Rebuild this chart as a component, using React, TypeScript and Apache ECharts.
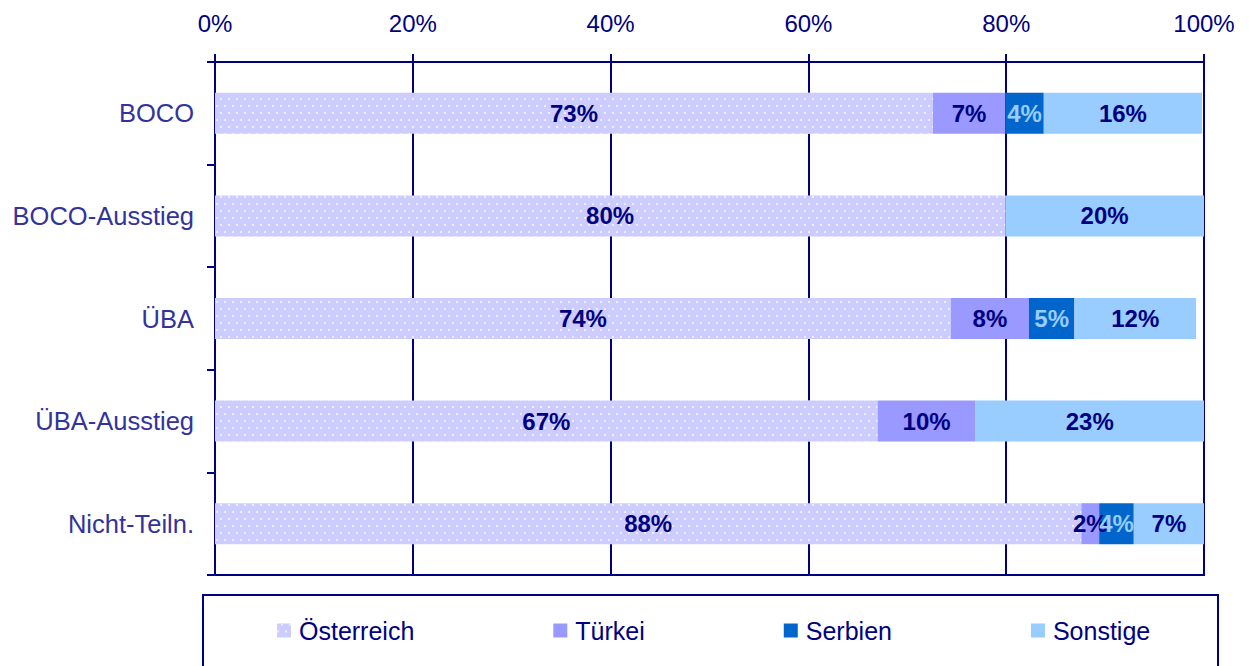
import React, { useEffect, useRef } from "react";
import * as echarts from "echarts";

const categories = ["BOCO", "BOCO-Ausstieg", "ÜBA", "ÜBA-Ausstieg", "Nicht-Teiln."];
const seriesNames = ["Österreich", "Türkei", "Serbien", "Sonstige"];
const oesterreich = [72.6, 79.9, 74.4, 67.0, 87.6];
const tuerkei = [7.3, 0, 7.9, 9.9, 1.8];
const serbien = [3.9, 0, 4.6, 0, 3.5];
const sonstige = [16.0, 20.1, 12.3, 23.1, 7.1];
const xTicks = [0, 20, 40, 60, 80, 100];

const NAVY = "#000080";
const FONT = "'Liberation Sans', Arial, sans-serif";

export default function App() {
  const ref = useRef<HTMLDivElement>(null);
  useEffect(() => {
    if (!ref.current) return;
    const chart = echarts.init(ref.current, undefined, { renderer: "svg" });
    const colors = ["#ccccff", "#9999ff", "#0066cc", "#99ccff"];
    const labelColors = [NAVY, NAVY, "#99ccff", NAVY];
    const values = [oesterreich, tuerkei, serbien, sonstige];
    const series = seriesNames.map((name, i) => {
      const itemStyle: any = { color: colors[i] };
      if (i === 0) {
        itemStyle.decal = {
          symbol: "circle",
          symbolSize: 0.85,
          color: "rgba(255,255,255,0.95)",
          dashArrayX: [
            [2, 6],
            [0, 4, 2, 2],
          ],
          dashArrayY: [2, 5],
        };
      }
      return {
        name,
        type: "bar",
        stack: "total",
        barWidth: 41,
        data: values[i],
        itemStyle,
        label: {
          show: true,
          position: "inside",
          fontFamily: FONT,
          fontSize: 24,
          fontWeight: "bold",
          color: labelColors[i],
          formatter: (p: any) => (p.value > 0 ? Math.round(p.value) + "%" : ""),
        },
      };
    });
    chart.setOption({
      animation: false,
      grid: {
        left: 215,
        right: 45,
        top: 62,
        bottom: 91,
        show: true,
        borderColor: NAVY,
        borderWidth: 2,
      },
      xAxis: {
        type: "value",
        position: "top",
        min: xTicks[0],
        max: xTicks[xTicks.length - 1],
        interval: 20,
        axisLine: { show: true, lineStyle: { color: NAVY, width: 2 } },
        axisTick: { show: true, length: 8, lineStyle: { color: NAVY, width: 2 } },
        splitLine: { show: true, lineStyle: { color: NAVY, width: 2 } },
        axisLabel: {
          formatter: "{value}%",
          fontFamily: FONT,
          fontSize: 24,
          color: NAVY,
          margin: 27,
        },
      },
      yAxis: {
        type: "category",
        inverse: true,
        data: categories,
        axisLine: { show: true, lineStyle: { color: NAVY, width: 2 } },
        axisTick: { show: true, length: 8, lineStyle: { color: NAVY, width: 2 } },
        axisLabel: {
          fontFamily: FONT,
          fontSize: 25.5,
          color: "#333399",
          margin: 21,
        },
      },
      legend: {
        left: 272,
        top: 613,
        itemWidth: 14,
        itemHeight: 14,
        itemGap: 139,
        icon: "rect",
        data: seriesNames,
        textStyle: {
          fontFamily: FONT,
          fontSize: 25,
          color: NAVY,
          padding: [0, 0, 0, 3],
        },
      },
      graphic: [
        {
          type: "rect",
          shape: { x: 203, y: 595, width: 1015, height: 90 },
          style: { fill: "none", stroke: NAVY, lineWidth: 2 },
          silent: true,
        },
      ],
      series,
    });
    return () => chart.dispose();
  }, []);
  return (
    <div
      ref={ref}
      style={{ position: "fixed", left: 0, top: 0, width: 1249, height: 666, background: "#fff" }}
    />
  );
}
